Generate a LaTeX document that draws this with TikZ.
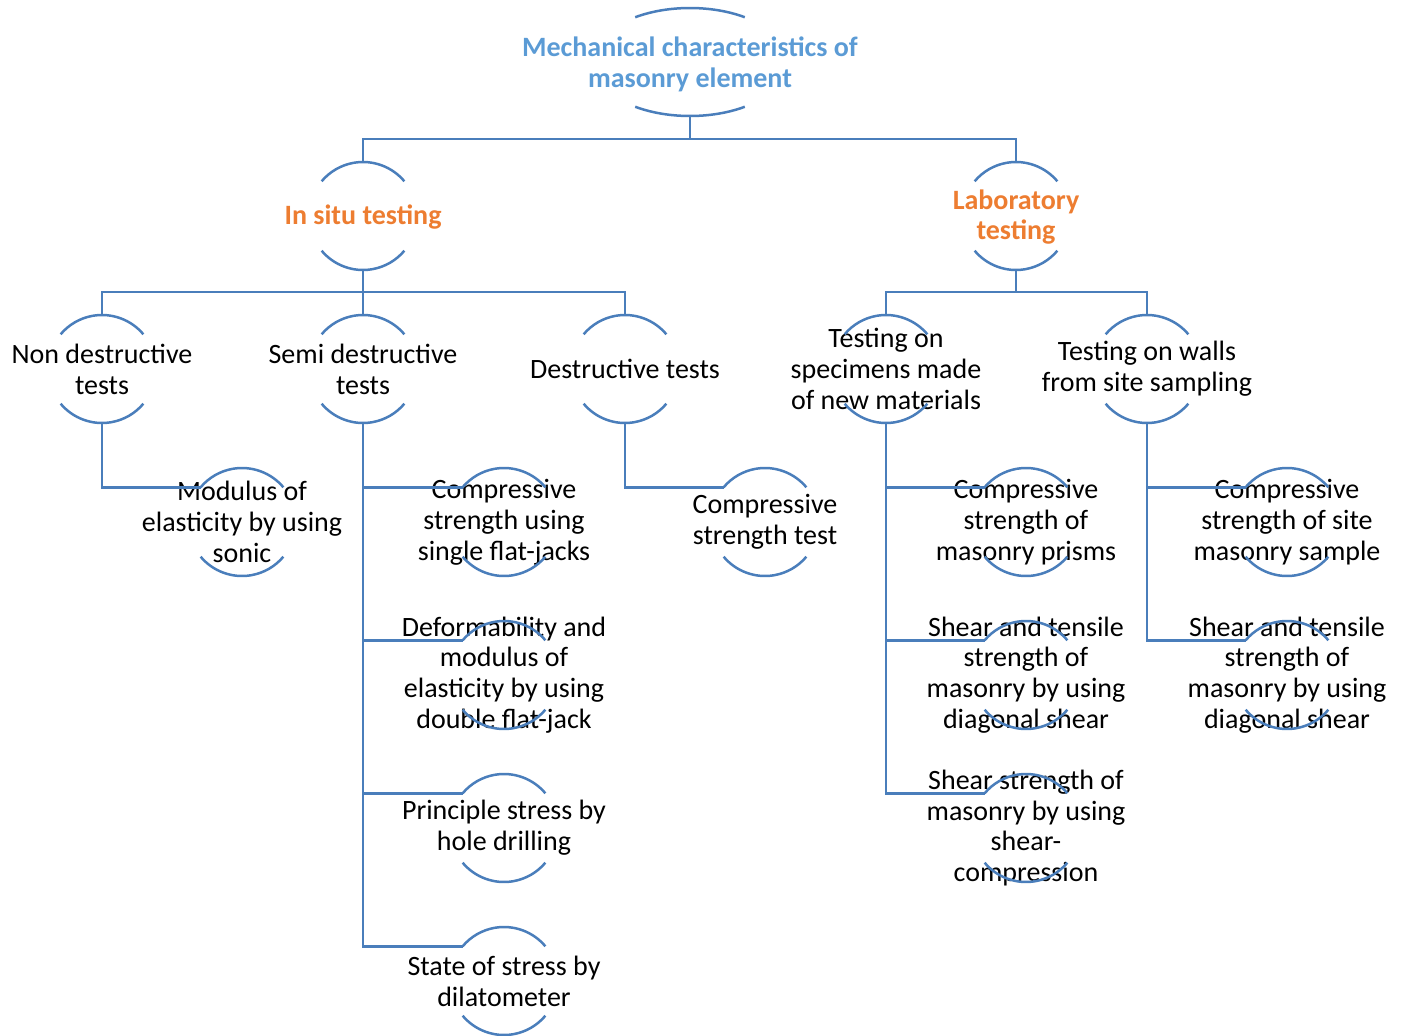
\documentclass[tikz,border=0pt]{standalone}
\usepackage{fontspec}
\setmainfont{Carlito}
\usepackage{tikz}
\usetikzlibrary{shapes.geometric}
\usepackage{xcolor}
\definecolor{msline}{HTML}{4A7EBB}
\definecolor{mstitle}{HTML}{5B9BD5}
\definecolor{msorange}{HTML}{ED7D31}

\tikzset{
  hub/.style={circle, minimum size=108pt, inner sep=0pt, outer sep=0pt},
  txt/.style={align=center, inner sep=0pt, font=\fontsize{28}{30.8}\selectfont},
  head/.style={txt, text=msorange, font=\fontsize{28}{30.8}\selectfont\bfseries},
  conn/.style={draw=msline, line width=2.5pt},
  arcln/.style={draw=msline, line width=2.5pt},
}

\begin{document}
\begin{tikzpicture}[x=1pt, y=1pt]
\useasboundingbox (0,0) rectangle (1401,-1036);
% top of the tree
\node[ellipse, minimum width=196pt, minimum height=108pt, inner sep=0pt, outer sep=0pt,
  label={[head, text=mstitle, yshift=-2pt]center:Mechanical characteristics of\\masonry element}] (root) at (690,-62) {};
\node[hub, label={[head, yshift=-1pt]center:In situ testing}] (insitu) at (363,-216) {};
\node[hub, label={[head, yshift=-1pt]center:Laboratory\\testing}] (lab) at (1016,-216) {};
% kinds of tests
\node[hub, label={[txt]center:Non destructive\\tests}] (nondes) at (102,-369) {};
\node[hub, label={[txt]center:Semi destructive\\tests}] (semides) at (363,-369) {};
\node[hub, label={[txt]center:Destructive tests}] (destr) at (625,-369) {};
\node[hub, label={[txt]center:Testing on\\specimens made\\of new materials}] (spec) at (886,-369) {};
\node[hub, label={[txt]center:Testing on walls\\from site sampling}] (walls) at (1147,-369) {};
% leaves
\node[hub, label={[txt]center:Modulus of\\elasticity by using\\sonic}] (sonic) at (242,-522) {};
\node[hub, label={[txt]center:Compressive\\strength using\\single flat-jacks}] (sfj) at (504,-522) {};
\node[hub, label={[txt]center:Deformability and\\modulus of\\elasticity by using\\double flat-jack}] (dfj) at (504,-675) {};
\node[hub, label={[txt]center:Principle stress by\\hole drilling}] (hole) at (504,-828) {};
\node[hub, label={[txt]center:State of stress by\\dilatometer}] (dilat) at (504,-981) {};
\node[hub, label={[txt]center:Compressive\\strength test}] (cstest) at (765,-522) {};
\node[hub, label={[txt]center:Compressive\\strength of\\masonry prisms}] (prism) at (1026,-522) {};
\node[hub, label={[txt]center:Shear and tensile\\strength of\\masonry by using\\diagonal shear}] (diagA) at (1026,-675) {};
\node[hub, label={[txt]center:Shear strength of\\masonry by using\\shear-\\compression}] (shcomp) at (1026,-828) {};
\node[hub, label={[txt]center:Compressive\\strength of site\\masonry sample}] (site) at (1287,-522) {};
\node[hub, label={[txt]center:Shear and tensile\\strength of\\masonry by using\\diagonal shear}] (diagB) at (1287,-675) {};

% arcs above and below each node
\draw[arcln] ([shift={(56:98 and 54)}]root.center) arc[start angle=56, end angle=124, x radius=98pt, y radius=54pt];
\draw[arcln] ([shift={(236:98 and 54)}]root.center) arc[start angle=236, end angle=304, x radius=98pt, y radius=54pt];
\foreach \n in {insitu, lab, nondes, semides, destr, spec, walls, sonic, sfj, dfj, hole, dilat, cstest, prism, diagA, shcomp, site, diagB} {
  \draw[arcln] (\n.40) arc[start angle=40, end angle=140, radius=54pt];
  \draw[arcln] (\n.220) arc[start angle=220, end angle=320, radius=54pt];
}

% connectors
\draw[conn] (root.south) -- ++(0,-23) -| (insitu.north);
\draw[conn] (root.south) -- ++(0,-23) -| (lab.north);
\foreach \k in {nondes, semides, destr}
  \draw[conn] (insitu.south) -- ++(0,-22) -| (\k.north);
\foreach \k in {spec, walls}
  \draw[conn] (lab.south) -- ++(0,-22) -| (\k.north);
\draw[conn] (nondes.south) |- (sonic.140);
\foreach \k in {sfj, dfj, hole, dilat}
  \draw[conn] (semides.south) |- (\k.140);
\draw[conn] (destr.south) |- (cstest.140);
\foreach \k in {prism, diagA, shcomp}
  \draw[conn] (spec.south) |- (\k.140);
\foreach \k in {site, diagB}
  \draw[conn] (walls.south) |- (\k.140);
\end{tikzpicture}
\end{document}
